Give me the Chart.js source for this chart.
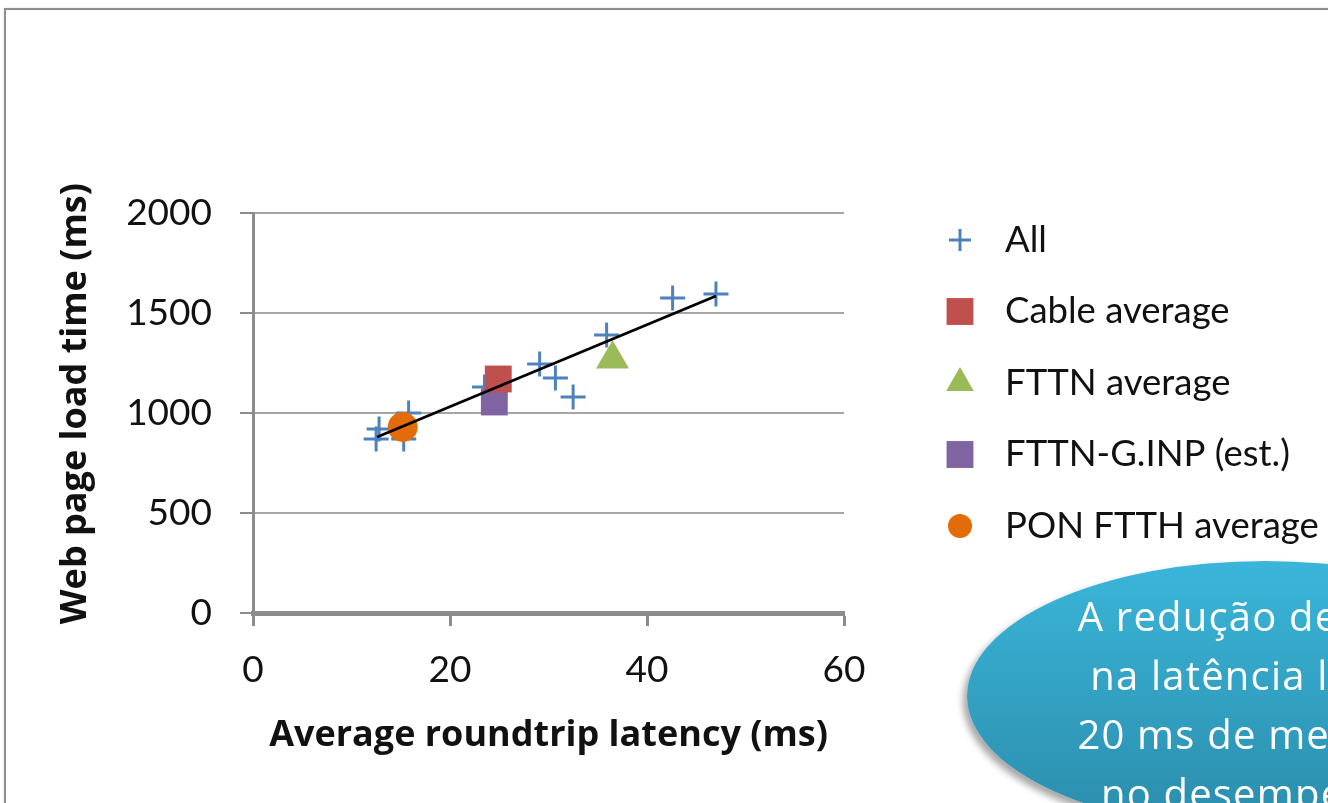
<!DOCTYPE html>
<html>
<head>
<meta charset="utf-8">
<script src="https://cdn.jsdelivr.net/npm/chart.js@4/dist/chart.umd.min.js"></script>
<style>
  html, body { margin: 0; padding: 0; background: #fff; overflow: hidden; }
  #frame {
    position: absolute; left: 4px; top: 8px; width: 1400px; height: 900px;
    border: 2px solid #8e8e8e; box-shadow: 1px 1px 3px rgba(0,0,0,0.25);
  }
  #wrap { position: absolute; left: 0; top: 0; width: 1328px; height: 803px; }
  #callout {
    position: absolute; left: 967px; top: 561px; width: 596px; height: 270px;
    border-radius: 50%;
    background: linear-gradient(#3ab6da, #2b8cab);
    box-shadow: -4px 5px 7px rgba(0,0,0,0.35);
  }
  #callout-text {
    position: absolute; left: 963px; top: 586px; width: 596px;
    text-align: center; color: #fff;
    font-family: "Open Sans", sans-serif; font-size: 40px; line-height: 59px;
    letter-spacing: 1.2px;
    white-space: nowrap;
  }
</style>
</head>
<body>
<div id="frame"></div>
<div id="wrap"><canvas id="chart" width="1328" height="803"></canvas></div>
<div id="callout"></div>
<div id="callout-text">A redução de 1 ms<br>na latência leva a<br>20 ms de melhoria<br>no desempenho</div>
<script>
// 데이터: 평균 지연(ms) vs 웹 페이지 로드 시간(ms)
const allLatency = [12.5, 12.8, 15.3, 15.8, 23.5, 29.1, 30.7, 32.5, 35.9, 42.6, 47.0];
const allLoadTime = [870, 920, 870, 1000, 1130, 1245, 1175, 1080, 1390, 1575, 1595];

const cableAvg = [24.9, 1170];
const fttnAvg = [36.5, 1270];
const fttnGinp = [24.5, 1055];
const ponFtthAvg = [15.2, 930];

const trendLatency = [12.6, 47.0];
const trendLoadTime = [880, 1585];

const xTicks = [0, 20, 40, 60];
const yTicks = [0, 500, 1000, 1500, 2000];

const FONT = 'Lato, "Liberation Sans", sans-serif';
const TITLE_FONT = '"Open Sans", Lato, sans-serif';

function toPoints(xs, ys) {
    return xs.map((x, i) => ({ x: x, y: ys[i] }));
}

// 오른쪽 범례 (차트 영역 밖에 직접 그림)
const sideLegend = {
    id: 'sideLegend',
    afterDraw(chart) {
        const ctx = chart.ctx;
        const markerX = 960;
        const textX = 1005;
        let y = 240;
        ctx.save();
        chart.data.datasets.forEach(ds => {
            if (ds.hideInLegend) return;
            ctx.fillStyle = ds.backgroundColor;
            ctx.strokeStyle = ds.borderColor;
            ctx.lineWidth = ds.borderWidth;
            Chart.helpers.drawPoint(ctx, {
                pointStyle: ds.pointStyle,
                radius: ds.legendRadius,
                rotation: 0,
                borderWidth: ds.borderWidth
            }, markerX, y);
            ctx.fillStyle = '#111';
            ctx.font = '36.5px ' + FONT;
            ctx.textAlign = 'left';
            ctx.textBaseline = 'middle';
            ctx.fillText(ds.label, textX, y);
            y += 71.5;
        });
        ctx.restore();
    }
};

const ctx = document.getElementById('chart').getContext('2d');
new Chart(ctx, {
    type: 'scatter',
    data: {
        datasets: [
            {
                label: 'trend',
                hideInLegend: true,
                data: toPoints(trendLatency, trendLoadTime),
                showLine: true,
                borderColor: '#000000',
                borderWidth: 2.8,
                pointRadius: 0,
                order: 0
            },
            {
                label: 'All',
                data: toPoints(allLatency, allLoadTime),
                pointStyle: 'cross',
                pointRadius: 12.5,
                legendRadius: 11,
                borderColor: '#4f81bd',
                backgroundColor: '#4f81bd',
                borderWidth: 3,
                order: 6
            },
            {
                label: 'Cable average',
                data: [{ x: cableAvg[0], y: cableAvg[1] }],
                pointStyle: 'rect',
                pointRadius: 19,
                legendRadius: 19,
                borderColor: '#c0504d',
                backgroundColor: '#c0504d',
                borderWidth: 0,
                order: 3
            },
            {
                label: 'FTTN average',
                data: [{ x: fttnAvg[0], y: fttnAvg[1] }],
                pointStyle: 'triangle',
                pointRadius: 19,
                legendRadius: 16,
                borderColor: '#9bbb59',
                backgroundColor: '#9bbb59',
                borderWidth: 0,
                order: 4
            },
            {
                label: 'FTTN-G.INP (est.)',
                data: [{ x: fttnGinp[0], y: fttnGinp[1] }],
                pointStyle: 'rect',
                pointRadius: 19,
                legendRadius: 19,
                borderColor: '#8064a2',
                backgroundColor: '#8064a2',
                borderWidth: 0,
                order: 5
            },
            {
                label: 'PON FTTH average',
                data: [{ x: ponFtthAvg[0], y: ponFtthAvg[1] }],
                pointStyle: 'circle',
                pointRadius: 15,
                legendRadius: 12,
                borderColor: '#e36c09',
                backgroundColor: '#e36c09',
                borderWidth: 0,
                order: 1
            }
        ]
    },
    options: {
        responsive: false,
        animation: false,
        layout: { padding: { left: 0, top: 213, right: 484, bottom: 0 } },
        plugins: {
            legend: { display: false },
            tooltip: { enabled: false }
        },
        scales: {
            x: {
                type: 'linear',
                min: 0,
                max: 60,
                afterFit(scale) { scale.height = 190; },
                afterBuildTicks(scale) { scale.ticks = xTicks.map(v => ({ value: v })); },
                grid: {
                    drawOnChartArea: false,
                    drawTicks: true,
                    tickLength: 13,
                    tickColor: '#8c8c8c',
                    tickWidth: 3
                },
                border: { color: '#8c8c8c', width: 5 },
                ticks: {
                    padding: 22,
                    color: '#111',
                    font: { family: FONT, size: 37 },
                    callback: v => String(v)
                },
                title: {
                    display: true,
                    text: 'Average roundtrip latency (ms)',
                    color: '#111',
                    font: { family: TITLE_FONT, size: 36, weight: 'bold' },
                    padding: { top: 0, bottom: 46 }
                }
            },
            y: {
                type: 'linear',
                min: 0,
                max: 2000,
                afterFit(scale) { scale.width = 253; },
                afterBuildTicks(scale) { scale.ticks = yTicks.map(v => ({ value: v })); },
                grid: {
                    color: '#a6a6a6',
                    lineWidth: 2,
                    tickLength: 13,
                    tickColor: '#8c8c8c',
                    tickWidth: 2
                },
                border: { color: '#8c8c8c', width: 3 },
                ticks: {
                    padding: 28,
                    color: '#111',
                    font: { family: FONT, size: 37 },
                    callback: v => String(v)
                },
                title: {
                    display: true,
                    text: '  Web page load time (ms)',
                    color: '#111',
                    font: { family: TITLE_FONT, size: 36, weight: 'bold' },
                    padding: { top: 54, bottom: 0 }
                }
            }
        }
    },
    plugins: [sideLegend]
});
</script>
</body>
</html>
